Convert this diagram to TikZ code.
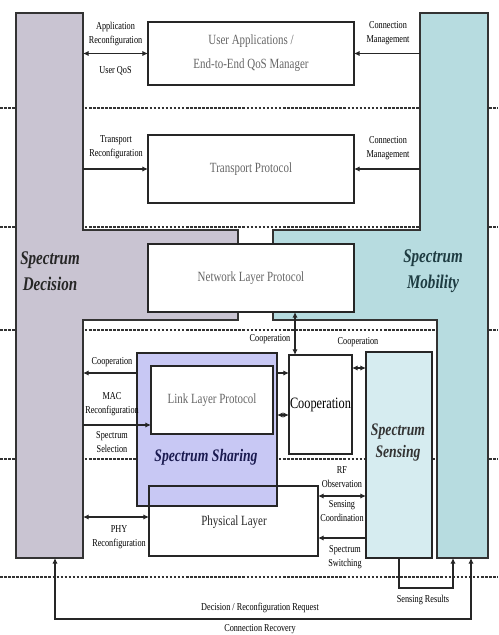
\documentclass[tikz,border=0pt]{standalone}
\usepackage{fontspec}
\setmainfont{Liberation Serif}[FakeStretch=0.78]
\usetikzlibrary{arrows.meta,calc}
\definecolor{decC}{RGB}{201,196,210}
\definecolor{mobC}{RGB}{183,220,224}
\definecolor{senC}{RGB}{214,236,240}
\definecolor{shaC}{RGB}{200,200,244}
\definecolor{mobT}{RGB}{30,60,66}
\definecolor{shaT}{RGB}{26,26,80}
\begin{document}
\begin{tikzpicture}[x=0.02cm,y=-0.02cm,
 sep/.style={line width=0.6pt, dash pattern=on 1.5pt off 0.8pt, black!80},
 region/.style={draw=black!80, line width=0.8pt},
 box/.style={draw=black!85, line width=0.9pt, fill=white, inner sep=0pt, outer sep=0pt, rectangle},
 anch/.style={inner sep=0pt, outer sep=0pt, draw=none, rectangle},
 con/.style={line width=0.7pt, black!85},
 arr/.style={con, -{Latex[length=3.2pt,width=3pt]}},
 dbl/.style={con, {Latex[length=3.2pt,width=3pt]}-{Latex[length=3.2pt,width=3pt]}},
 lab/.style={font=\fontsize{6}{8}\selectfont, align=center, inner sep=0pt},
 ptxt/.style={font=\fontsize{8}{13.5}\selectfont, text=black!60, align=center},
 ttl/.style={font=\fontsize{11}{15}\selectfont\bfseries\itshape, align=center, inner sep=0pt}
]
\useasboundingbox (0,0) rectangle (498,635);
\fill[white] (0,0) rectangle (498,635);

% layer separators
\draw[sep] (0,108) -- (498,108);
\draw[sep] (0,227) -- (498,227);
\draw[sep] (0,330) -- (498,330);
\draw[sep] (0,459) -- (498,459);
\draw[sep] (0,577) -- (498,577);

% spectrum decision & mobility regions
\draw[region, fill=decC] (16,13) -- (83,13) -- (83,230) -- (238,230) -- (238,320) -- (83,320) -- (83,558) -- (16,558) -- cycle;
\draw[region, fill=mobC] (420,13) -- (488,13) -- (488,558) -- (437,558) -- (437,320) -- (273,320) -- (273,230) -- (420,230) -- cycle;
\node[anch, minimum width=1.34cm, minimum height=10.9cm] (dec) at (49.5,285.5) {};
\node[anch, minimum width=1.36cm, minimum height=6.14cm] (mobU) at (454,166.5) {};
\node[anch, minimum width=1.02cm, minimum height=4.76cm] (mobL) at (462.5,439) {};
\node[ttl, text=black!85] (decT) at (50,271) {Spectrum\\Decision};
\node[ttl, text=mobT] (mobT) at (433,271) {Spectrum\\Mobility};

% protocol boxes
\node[box, ptxt, minimum width=4.12cm, minimum height=1.26cm] (app) at (251,53.5) {User Applications /\\End-to-End QoS Manager};
\node[box, ptxt, minimum width=4.12cm, minimum height=1.36cm] (trans) at (251,169) {Transport Protocol};
\node[box, ptxt, minimum width=4.12cm, minimum height=1.36cm] (net) at (251,278) {Network Layer Protocol};

% lower part
\node[box, minimum width=3.38cm, minimum height=1.4cm] (phy) at (233.5,521) {};
\node[box, fill=shaC, minimum width=2.8cm, minimum height=3.06cm] (sha) at (207,429.5) {};
\draw[draw=black!85, line width=0.9pt] (phy.north west) rectangle (phy.south east);
\node[font=\fontsize{8}{10}\selectfont, text=black!85] (phyT) at (234,522) {Physical Layer};
\node[box, ptxt, minimum width=2.44cm, minimum height=1.36cm] (link) at (212,400) {Link Layer Protocol};
\node[ttl, font=\fontsize{10}{12}\selectfont\bfseries\itshape, text=shaT] (shaT) at (206,457) {Spectrum Sharing};
\node[box, font=\fontsize{9}{11}\selectfont, minimum width=1.26cm, minimum height=1.98cm] (coop) at (320.5,404.5) {Cooperation};
\node[box, fill=senC, minimum width=1.32cm, minimum height=4.12cm] (sens) at (399,455) {};
\node[ttl, font=\fontsize{10}{12.5}\selectfont\bfseries\itshape, text=black!80] (sensT) at (398,443) {Spectrum\\Sensing};

% connectors: upper layers
\draw[dbl] (app.west -| dec.east) -- (app.west);
\node[lab] at (115.5,34) {Application\\Reconfiguration};
\node[lab] at (115.5,71) {User QoS};
\draw[arr] (app.east -| mobU.west) -- (app.east);
\node[lab] at (388,33) {Connection\\Management};
\draw[arr] (trans.west -| dec.east) -- (trans.west);
\node[lab] at (116,147) {Transport\\Reconfiguration};
\draw[arr] (trans.east -| mobU.west) -- (trans.east);
\node[lab] at (388,148) {Connection\\Management};

% connectors: network / link / physical
\draw[dbl] ([xshift=0.12cm]coop.north west) -- ([xshift=0.12cm]coop.north west |- net.south);
\node[lab] at (270,339) {Cooperation};
\coordinate (cs) at ([yshift=-0.26cm]coop.north east);
\draw[dbl] (cs) -- (cs -| sens.west);
\node[lab] at (358,342) {Cooperation};
\coordinate (lc) at ([yshift=-0.4cm]sha.north west);
\draw[arr] (lc) -- (lc -| dec.east);
\node[lab] at (112,362) {Cooperation};
\coordinate (mac) at ([yshift=-0.5cm]link.west);
\draw[arr] (mac -| dec.east) -- (mac);
\node[lab] at (112,404) {MAC\\Reconfiguration};
\node[lab] at (112,442) {Spectrum\\Selection};
\coordinate (rc1) at ([yshift=-0.4cm]sha.north east);
\draw[arr] (rc1) -- (rc1 -| coop.west);
\coordinate (rc2) at ([yshift=-1.24cm]sha.north east);
\draw[dbl] (rc2) -- (rc2 -| coop.west);
\coordinate (py) at ([yshift=0.08cm]phy.west);
\draw[dbl] (py -| dec.east) -- (py);
\node[lab] at (119,537) {PHY\\Reconfiguration};
\coordinate (rf) at ([yshift=-0.2cm]phy.north east);
\draw[dbl] (rf) -- (rf -| sens.west);
\node[lab] at (342,477) {RF\\Observation};
\node[lab] at (342,511) {Sensing\\Coordination};
\coordinate (sw) at ([yshift=-1.04cm]phy.north east);
\draw[arr] (sw -| sens.west) -- (sw);
\node[lab] at (345,557) {Spectrum\\Switching};

% feedback loops at the bottom
\draw[arr] (sens.south) -- ++(0,30) -| ([xshift=0.32cm]mobL.south west);
\node[lab] at (423,600) {Sensing Results};
\draw[dbl] ([xshift=0.68cm]mobL.south west) -- ++(0,61) -| ([xshift=0.78cm]dec.south west);
\node[lab] at (260,608) {Decision / Reconfiguration Request};
\node[lab] at (260,629) {Connection Recovery};
\end{tikzpicture}
\end{document}
